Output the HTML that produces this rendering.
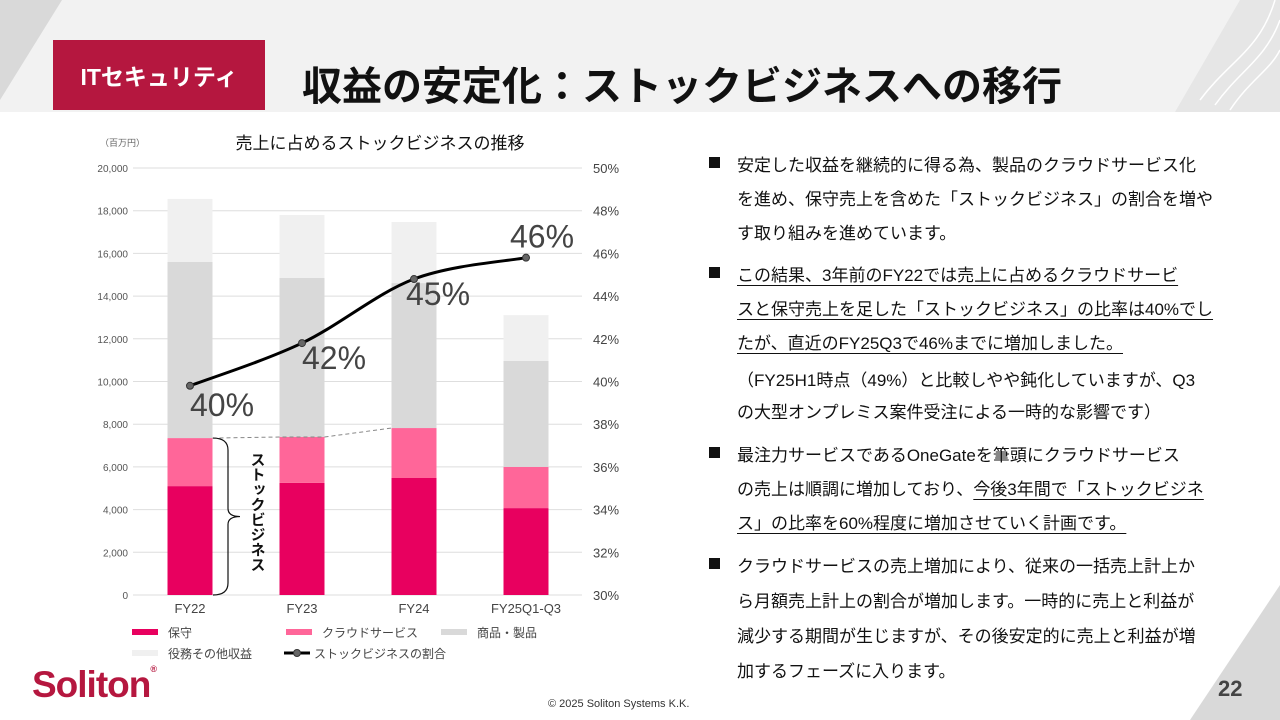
<!DOCTYPE html>
<html><head><meta charset="utf-8">
<style>
body{margin:0;width:1280px;height:720px;overflow:hidden;background:#fff;font-family:"Liberation Sans","Noto Sans CJK JP",sans-serif;position:relative}
.abs{position:absolute}
.ln{position:absolute;left:737px;font-size:17px;color:#111;white-space:nowrap;letter-spacing:0px}
.bul{position:absolute;left:709px;width:11px;height:11px;background:#111}
u{text-decoration-thickness:1px;text-underline-offset:4px}
</style></head><body>
<svg class="abs" style="left:0;top:0" width="1280" height="720">
<polygon points="0,0 1280,0 1280,112 0,112" fill="#f2f2f2"/>
<polygon points="0,0 62,0 0,100" fill="#d9d9d9"/>
<polygon points="1175,112 1280,112 1280,0 1240,0" fill="#e6e6e6"/>
<polygon points="1280,585 1280,720 1190,720" fill="#d9d9d9"/>
<path d="M1200,100 C1230,60 1260,50 1275,0 M1215,105 C1240,70 1265,60 1280,20 M1230,110 C1250,80 1270,70 1280,50" stroke="#fff" fill="none" stroke-width="1.5"/>
</svg>
<div class="abs" style="left:53px;top:40px;width:212px;height:70px;background:#b5173f;color:#fff;font-weight:bold;font-size:23px;display:flex;align-items:center;justify-content:center">ITセキュリティ</div>
<div class="abs" style="left:302px;top:54px;font-size:40px;font-weight:bold;color:#111;letter-spacing:0px">収益の安定化：ストックビジネスへの移行</div>

<svg id="chart" class="abs" style="left:0;top:0" width="700" height="720"></svg>

<div>
<div class="bul" style="top:157px"></div>
<div class="ln" style="top:151px">安定した収益を継続的に得る為、製品のクラウドサービス化</div>
<div class="ln" style="top:185px">を進め、保守売上を含めた「ストックビジネス」の割合を増や</div>
<div class="ln" style="top:219px">す取り組みを進めています。</div>
<div class="bul" style="top:267px"></div>
<div class="ln" style="top:261px"><u>この結果、3年前のFY22では売上に占めるクラウドサービ</u></div>
<div class="ln" style="top:295px"><u>スと保守売上を足した「ストックビジネス」の比率は40%でし</u></div>
<div class="ln" style="top:329px"><u>たが、直近のFY25Q3で46%までに増加しました。</u></div>
<div class="ln" style="top:366px">（FY25H1時点（49%）と比較しやや鈍化していますが、Q3</div>
<div class="ln" style="top:398px">の大型オンプレミス案件受注による一時的な影響です）</div>
<div class="bul" style="top:447px"></div>
<div class="ln" style="top:441px">最注力サービスであるOneGateを筆頭にクラウドサービス</div>
<div class="ln" style="top:475px">の売上は順調に増加しており、<u>今後3年間で「ストックビジネ</u></div>
<div class="ln" style="top:509px"><u>ス」の比率を60%程度に増加させていく計画です。</u></div>
<div class="bul" style="top:558px"></div>
<div class="ln" style="top:552px">クラウドサービスの売上増加により、従来の一括売上計上か</div>
<div class="ln" style="top:587px">ら月額売上計上の割合が増加します。一時的に売上と利益が</div>
<div class="ln" style="top:622px">減少する期間が生じますが、その後安定的に売上と利益が増</div>
<div class="ln" style="top:657px">加するフェーズに入ります。</div>
</div>

<div class="abs" style="left:32px;top:664px;font-size:37px;font-weight:bold;color:#b5173f;letter-spacing:-1px">Soliton<span style="font-size:9px;vertical-align:top">®</span></div>
<div class="abs" style="left:548px;top:698px;font-size:11px;color:#333">© 2025 Soliton Systems K.K.</div>
<div class="abs" style="left:1218px;top:676px;font-size:22px;font-weight:bold;color:#444">22</div>

<script>
const categories=["FY22","FY23","FY24","FY25Q1-Q3"];
const maintenance=[5100,5250,5480,4070];
const cloud=[2250,2150,2340,1930];
const products=[8250,7450,6790,4960];
const services=[2950,2950,2860,2150];
const stockRatio=[39.8,41.8,44.8,45.8];
const ratioLabels=["40%","42%","45%","46%"];
const leftTicks=[0,2000,4000,6000,8000,10000,12000,14000,16000,18000,20000];
const rightTicks=[30,32,34,36,38,40,42,44,46,48,50];

const svg=document.getElementById('chart');
const NS="http://www.w3.org/2000/svg";
const x0=133,x1=582,yB=595,yT=168;
const yL=v=>yB-(v/20000)*(yB-yT);
const yR=v=>yB-((v-30)/20)*(yB-yT);
const xc=i=>190+i*112;
const bw=45;
function mk(tag,attrs,text){const e=document.createElementNS(NS,tag);for(const k in attrs)e.setAttribute(k,attrs[k]);if(text!==undefined)e.textContent=text;svg.appendChild(e);return e;}
let t=mk('text',{x:100,y:146,'font-size':9,fill:'#666'},'（百万円）');

t=mk('text',{x:380,y:149,'font-size':17,fill:'#111','text-anchor':'middle'},'売上に占めるストックビジネスの推移');

leftTicks.forEach((v,i)=>{
 const g=mk('line',{x1:x0,x2:x1,y1:yL(v),y2:yL(v),stroke:'#dedede','stroke-width':1});
 
 const l=mk('text',{x:128,y:yL(v)+4,'font-size':10,fill:'#555','text-anchor':'end'},v.toLocaleString('en-US'));
 
});
rightTicks.forEach(v=>{
 const l=mk('text',{x:593,y:yR(v)+5,'font-size':13,fill:'#444'},v+'%');
 
});
const series=[[maintenance,'#e8005f','maintenance'],[cloud,'#ff6699','cloud'],[products,'#d9d9d9','products'],[services,'#f0f0f0','services']];
categories.forEach((c,i)=>{
 let base=0;
 series.forEach(([arr,col,nm])=>{
  const r=mk('rect',{x:xc(i)-bw/2,y:yL(base+arr[i]),width:bw,height:yL(base)-yL(base+arr[i]),fill:col});
  
  base+=arr[i];
 });
 const l=mk('text',{x:xc(i),y:613,'font-size':13,fill:'#444','text-anchor':'middle'},c);
 
});
let dp='';[0,1,2].forEach(i=>{const v=maintenance[i]+cloud[i];dp+=(i?'L':'M')+(i?xc(i)-bw/2:xc(i)+bw/2)+','+yL(v)+(i<2?' L'+(xc(i)+bw/2)+','+yL(v):'');});
t=mk('path',{d:dp,stroke:'#888',fill:'none','stroke-dasharray':'4,3','stroke-width':1});

const bt=yL(maintenance[0]+cloud[0]),bm=(bt+yB)/2;
t=mk('path',{d:`M213,${bt} Q228,${bt} 228,${bt+12} L228,${bm-8} Q228,${bm} 240,${bm} Q228,${bm} 228,${bm+8} L228,${yB-12} Q228,${yB} 213,${yB}`,stroke:'#111',fill:'none','stroke-width':1.2});

t=mk('text',{x:257,y:452,'font-size':15,fill:'#111','font-weight':'bold',style:'writing-mode:vertical-rl;'},'ストックビジネス');

const pts=stockRatio.map((v,i)=>[xc(i),yR(v)]);
let d='M'+pts[0];
for(let i=0;i<pts.length-1;i++){const p0=pts[i-1]||pts[i],p1=pts[i],p2=pts[i+1],p3=pts[i+2]||p2;
 const c1=[p1[0]+(p2[0]-p0[0])/6,p1[1]+(p2[1]-p0[1])/6],c2=[p2[0]-(p3[0]-p1[0])/6,p2[1]-(p3[1]-p1[1])/6];
 d+=` C${c1} ${c2} ${p2}`;}
t=mk('path',{d:d,stroke:'#000',fill:'none','stroke-width':3});

const lo=[[0,30],[0,26],[-8,26],[-16,-10]];
pts.forEach((p,i)=>{
 const c=mk('circle',{cx:p[0],cy:p[1],r:3.5,fill:'#666',stroke:'#333','stroke-width':1});
 
 const l=mk('text',{x:p[0]+lo[i][0],y:p[1]+lo[i][1],'font-size':32,fill:'#444'},ratioLabels[i]);
 
});
const leg=[['rect','#e8005f','保守',132,632],['rect','#ff6699','クラウドサービス',286,632],['rect','#d9d9d9','商品・製品',441,632],['rect','#f0f0f0','役務その他収益',132,653],['line','#000','ストックビジネスの割合',284,653]];
leg.forEach(([k,col,txt,x,y])=>{
 let s;
 if(k==='rect'){s=mk('rect',{x:x,y:y-3,width:26,height:6,fill:col});}
 else{s=mk('line',{x1:x,x2:x+26,y1:y,y2:y,stroke:'#000','stroke-width':3});const c=mk('circle',{cx:x+13,cy:y,r:3.5,fill:'#666',stroke:'#333'});}
 
 const l=mk('text',{x:k==='rect'?x+36:x+30,y:y+5,'font-size':12,fill:'#444'},txt);
 
});
</script>
</body></html>
